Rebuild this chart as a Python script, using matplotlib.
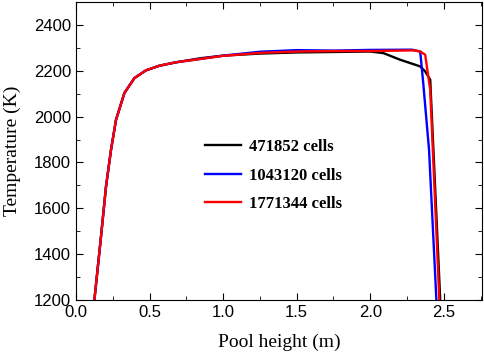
import numpy as np
import matplotlib.pyplot as plt
from matplotlib.ticker import MultipleLocator

# temperature along pool height for three mesh sizes
x_rise = [0.125, 0.170, 0.204, 0.238, 0.272, 0.329, 0.397, 0.476, 0.567, 0.68]
T_rise = [1200, 1477, 1695, 1855, 1986, 2103, 2168, 2202, 2222, 2237]

x_coarse = x_rise + [0.85, 1.0, 1.25, 1.5, 1.75, 2.0, 2.09, 2.204, 2.34, 2.374, 2.408, 2.476]
T_coarse = T_rise + [2255, 2266, 2275, 2280, 2282, 2284, 2277, 2248, 2219, 2197, 2161, 1200]

x_mid = x_rise + [0.85, 1.0, 1.25, 1.5, 1.75, 2.0, 2.283, 2.34, 2.36, 2.40, 2.45]
T_mid = T_rise + [2252, 2266, 2283, 2290, 2288, 2291, 2292, 2284, 2150, 1855, 1200]

x_fine = x_rise + [0.85, 1.0, 1.25, 1.5, 1.75, 2.0, 2.295, 2.34, 2.374, 2.385, 2.408, 2.47]
T_fine = T_rise + [2252, 2265, 2278, 2284, 2286, 2286, 2289, 2284, 2270, 2219, 2117, 1200]

labels = ["471852 cells", "1043120 cells", "1771344 cells"]

fig = plt.figure(figsize=(4.84, 3.55), dpi=100)
ax = fig.add_axes([76/484, 55/355, 406/484, 298/355])

ax.plot(x_coarse, T_coarse, color='black', lw=1.7, label=labels[0])
ax.plot(x_mid, T_mid, color='blue', lw=1.7, label=labels[1])
ax.plot(x_fine, T_fine, color='red', lw=1.7, label=labels[2])

ax.set_xlim(0, 2.76)
ax.set_ylim(1200, 2500)
ax.xaxis.set_major_locator(MultipleLocator(0.5))
ax.xaxis.set_minor_locator(MultipleLocator(0.25))
ax.set_yticks([1200, 1400, 1600, 1800, 2000, 2200, 2400])
ax.yaxis.set_minor_locator(MultipleLocator(100))
ax.tick_params(which='both', direction='in', top=True, right=True)
ax.tick_params(which='major', length=5)
ax.tick_params(which='minor', length=3)
for lab in ax.get_xticklabels() + ax.get_yticklabels():
    lab.set_family('Liberation Sans')
    lab.set_fontsize(12)

ax.set_xlabel("Pool height (m)", family='Liberation Serif', fontsize=14, labelpad=10)
ax.set_ylabel("Temperature (K)", family='Liberation Serif', fontsize=14, labelpad=9)

ax.legend(loc='upper left', bbox_to_anchor=(0.28, 0.59), frameon=False,
          prop={'family': 'Liberation Serif', 'weight': 'bold', 'size': 12},
          handlelength=2.2, labelspacing=0.75, handletextpad=0.45)

plt.savefig("out.png", dpi=100)
